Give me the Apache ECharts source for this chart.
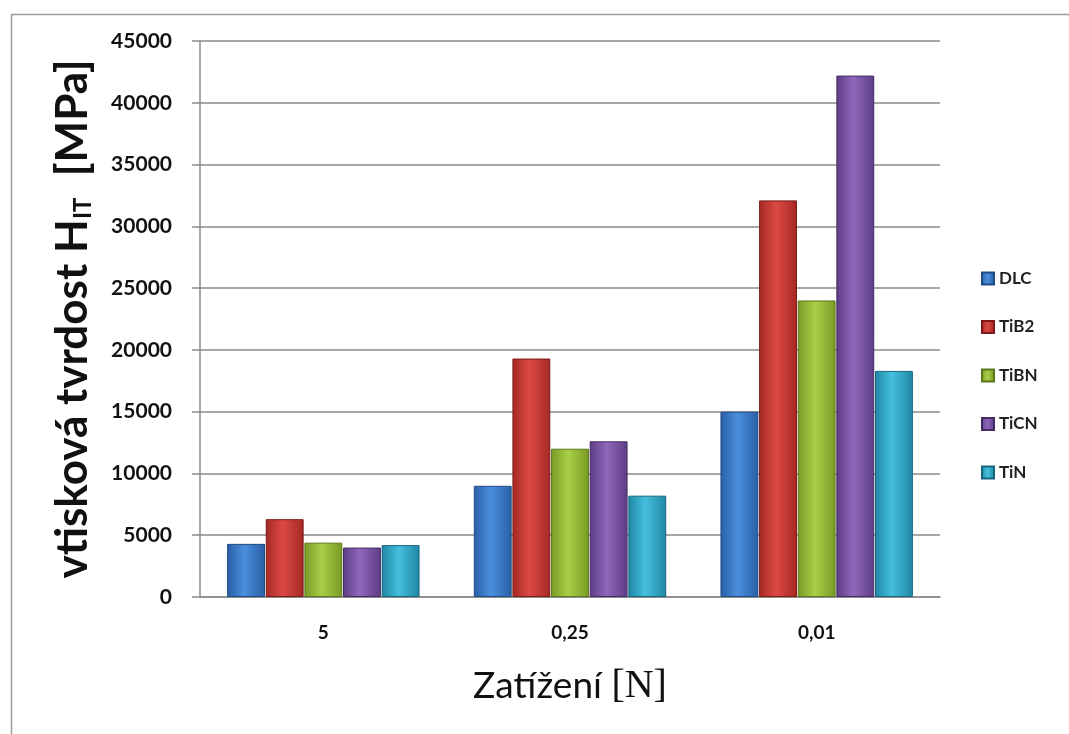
<!DOCTYPE html>
<html>
<head>
<meta charset="utf-8">
<script src="https://cdn.jsdelivr.net/npm/echarts@6/dist/echarts.min.js"></script>
<style>html,body{margin:0;padding:0;background:#fff}#c{width:1069px;height:734px}</style>
</head>
<body>
<div id="c"></div>
<script>
const categories = ['5', '0,25', '0,01'];
const seriesNames = ['DLC', 'TiB2', 'TiBN', 'TiCN', 'TiN'];
const DLC  = [4300, 9000, 15000];
const TiB2 = [6300, 19300, 32100];
const TiBN = [4400, 12000, 24000];
const TiCN = [4000, 12600, 42200];
const TiN  = [4200, 8200, 18300];
const yTicks = [0, 5000, 10000, 15000, 20000, 25000, 30000, 35000, 40000, 45000];

const seriesValues = [DLC, TiB2, TiBN, TiCN, TiN];
const palette = [
  ['#2a5ea6', '#4a8fdc', '#2a5ea6'],
  ['#a52822', '#dc4a44', '#a52822'],
  ['#789a24', '#a9cf48', '#789a24'],
  ['#5c3c84', '#9068bb', '#5c3c84'],
  ['#1f86a4', '#44c0de', '#1f86a4']
];
const borders = ['#1f4b85', '#7e1a16', '#5c761a', '#442c63', '#176680'];

function grad(c) {
  return new echarts.graphic.LinearGradient(0, 0, 1, 0, [
    {offset: 0, color: c[0]}, {offset: 0.45, color: c[1]}, {offset: 1, color: c[2]}
  ]);
}

const chart = echarts.init(document.getElementById('c'), null, {renderer: 'canvas'});
const FONT = 'Lato';
chart.setOption({
  backgroundColor: '#fff',
  animation: false,
  graphic: [{
    type: 'rect', left: 9, top: 12, shape: {width: 1080, height: 740},
    style: {fill: 'none', stroke: '#9a9a9a', lineWidth: 1.5}, silent: true, z: -1
  }],
  grid: {left: 200, right: 129, top: 41, bottom: 137, containLabel: false},
  legend: {
    orient: 'vertical', left: 976, top: 265, itemWidth: 12, itemHeight: 12, itemGap: 31.5,
    icon: 'rect',
    textStyle: {fontFamily: FONT, fontWeight: 'bold', fontSize: 17, color: '#222'},
    data: seriesNames
  },
  xAxis: {
    type: 'category', data: categories,
    axisLine: {lineStyle: {color: '#8a8a8a', width: 1.5}},
    axisTick: {show: false},
    axisLabel: {fontFamily: FONT, fontWeight: 'bold', fontSize: 19, color: '#111', margin: 26},
    name: '{a|Zatížení }{b|[N]}', nameLocation: 'middle', nameGap: 69,
    nameTextStyle: {
      rich: {
        a: {fontFamily: FONT, fontSize: 37, color: '#111'},
        b: {fontFamily: 'Liberation Serif', fontSize: 40, color: '#111'}
      }
    }
  },
  yAxis: {
    type: 'value', min: 0, max: 45000, interval: 5000,
    axisLine: {show: true, lineStyle: {color: '#8a8a8a', width: 1.5}},
    axisTick: {show: true, length: 8, lineStyle: {color: '#8a8a8a', width: 1.5}},
    axisLabel: {fontFamily: FONT, fontWeight: 'bold', fontSize: 21, color: '#111', margin: 28,
      formatter: v => yTicks.includes(v) ? String(v) : ''},
    splitLine: {lineStyle: {color: '#8a8a8a', width: 1.5}},
    name: '{a|vtisková tvrdost H}{s|IT}{a|  [MPa]}', nameLocation: 'middle', nameGap: 105, nameRotate: 90,
    nameTextStyle: {
      rich: {
        a: {fontFamily: FONT, fontWeight: 'bold', fontSize: 44, color: '#111'},
        s: {fontFamily: FONT, fontWeight: 'bold', fontSize: 24, color: '#111', verticalAlign: 'bottom'}
      }
    }
  },
  series: seriesNames.map((n, i) => ({
    name: n, type: 'bar', data: seriesValues[i],
    barGap: '2%', barCategoryGap: '22%',
    itemStyle: {color: grad(palette[i]), borderColor: borders[i], borderWidth: 1}
  }))
});
</script>
</body>
</html>
